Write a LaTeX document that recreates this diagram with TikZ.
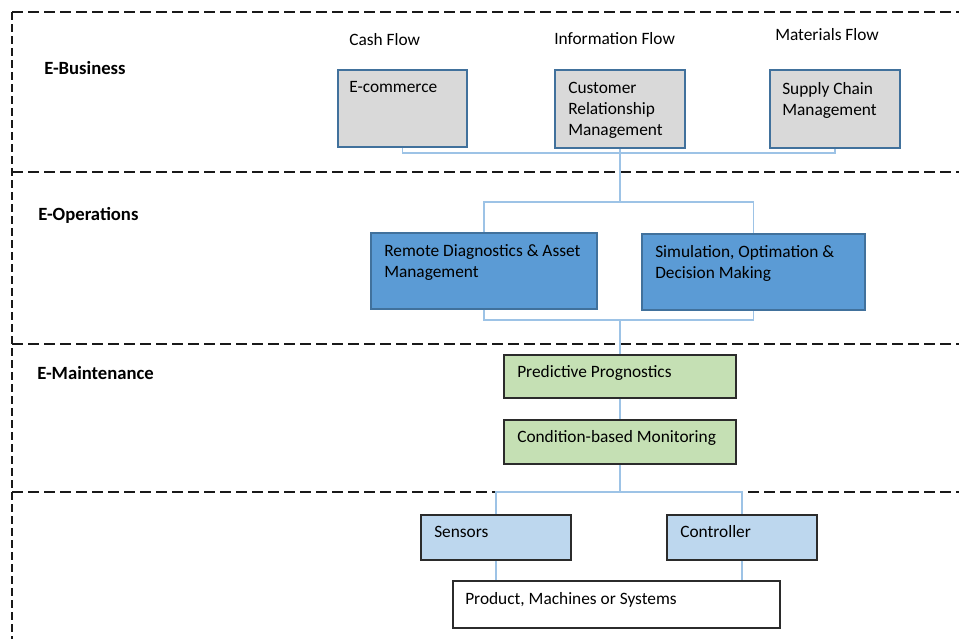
\documentclass[tikz,border=0pt]{standalone}
\usepackage{fontspec}
\setmainfont{Carlito}
\usetikzlibrary{fit}
\definecolor{grayfill}{HTML}{D9D9D9}
\definecolor{boxblue}{HTML}{41719C}
\definecolor{midblue}{HTML}{5B9BD5}
\definecolor{greenfill}{HTML}{C5E0B4}
\definecolor{lightblue}{HTML}{BDD7EE}
\definecolor{linkblue}{HTML}{9DC3E6}
\definecolor{darkedge}{HTML}{2B2B2B}
\tikzset{
  box/.style={draw, line width=1.2pt, inner sep=0pt},
  bizbox/.style={box, draw=boxblue, fill=grayfill},
  opbox/.style={box, draw=boxblue, fill=midblue},
  mntbox/.style={box, draw=darkedge, fill=greenfill},
  devbox/.style={box, draw=darkedge, fill=lightblue},
  plainbox/.style={box, draw=darkedge, fill=white},
  txt/.style={inner sep=0pt, font=\fontsize{13}{15.75}\selectfont, align=left, text=black},
  head/.style={inner sep=0pt, font=\fontsize{14}{16}\selectfont\bfseries, text=black},
  hdash/.style={line width=1.5pt, draw=black!90, dash pattern=on 8.25pt off 3.75pt},
  vdash/.style={line width=1.5pt, draw=black!90, dash pattern=on 6pt off 3pt},
  link/.style={draw=linkblue, line width=1.1pt}
}
\begin{document}
\begin{tikzpicture}[x=0.75pt,y=-0.75pt]
\useasboundingbox (0,0) rectangle (959,639);
% layer separators
\draw[hdash] (12,12) -- (959,12);
\draw[hdash] (12,172) -- (959,172);
\draw[hdash] (12,344) -- (959,344);
\draw[hdash] (12,492) -- (959,492);
\draw[vdash] (12,12) -- (12,639);
% section headings
\node[head, anchor=base west] (hbus) at (44,74) {E-Business};
\node[head, anchor=base west] (hops) at (38,220) {E-Operations};
\node[head, anchor=base west] (hmnt) at (37,379) {E-Maintenance};
% flow labels
\node[txt, anchor=base west] (fcash) at (349,45.5) {Cash Flow};
\node[txt, anchor=base west] (finfo) at (554,44.5) {Information Flow};
\node[txt, anchor=base west] (fmat) at (775,40.5) {Materials Flow};
% E-Business boxes
\node[bizbox, fit={(338,70) (467,147)}] (ecom) {};
\node[bizbox, fit={(555,70) (685,148)}] (crm) {};
\node[bizbox, fit={(770,70) (900,148)}] (scm) {};
\node[txt, anchor=base west] (tecom) at (349,92.5) {E-commerce};
\node[txt, anchor=north west] (tcrm) at (568,82) {Customer\\Relationship\\Management};
\node[txt, anchor=north west] (tscm) at (782,82) {Supply Chain\\Management};
% E-Operations boxes
\node[opbox, fit={(371,233) (597,309)}] (rem) {};
\node[opbox, fit={(642,234) (865,310)}] (sim) {};
\node[txt, anchor=north west] (trem) at (384,244) {Remote Diagnostics \& Asset\\Management};
\node[txt, anchor=north west] (tsim) at (655,245) {Simulation, Optimation \&\\Decision Making};
% E-Maintenance boxes
\node[mntbox, fit={(504,355) (736,398)}] (pred) {};
\node[mntbox, fit={(504,420) (736,464)}] (cond) {};
\node[txt, anchor=base west] (tpred) at (517,377.5) {Predictive Prognostics};
\node[txt, anchor=base west] (tcond) at (517,442.5) {Condition-based Monitoring};
% device layer
\node[devbox, fit={(421,515) (571,560)}] (sens) {};
\node[devbox, fit={(667,515) (817,560)}] (ctrl) {};
\node[plainbox, fit={(453,581) (780,628)}] (prod) {};
\node[txt, anchor=base west] (tsens) at (434,537.5) {Sensors};
\node[txt, anchor=base west] (tctrl) at (680,537.5) {Controller};
\node[txt, anchor=base west] (tprod) at (465,604.5) {Product, Machines or Systems};
% junctions
\coordinate (jbus) at (620,153);
\coordinate (jtop) at (620,202);
\coordinate (jbot) at (620,320);
\coordinate (jdev) at (620,492);
% connectors
\draw[link] (ecom.south) |- (jbus) -| (scm.south);
\draw[link] (crm.south) -- (jtop);
\draw[link] (rem.north) |- (jtop) -| (sim.north);
\draw[link] (rem.south) |- (jbot) -| (sim.south);
\draw[link] (jbot) -- (pred.north);
\draw[link] (pred.south) -- (cond.north);
\draw[link] (cond.south) -- (jdev);
\draw[link] (sens.north) |- (jdev) -| (ctrl.north);
\draw[link] (sens.south) -- (sens.south |- prod.north);
\draw[link] (ctrl.south) -- (ctrl.south |- prod.north);
\end{tikzpicture}
\end{document}
